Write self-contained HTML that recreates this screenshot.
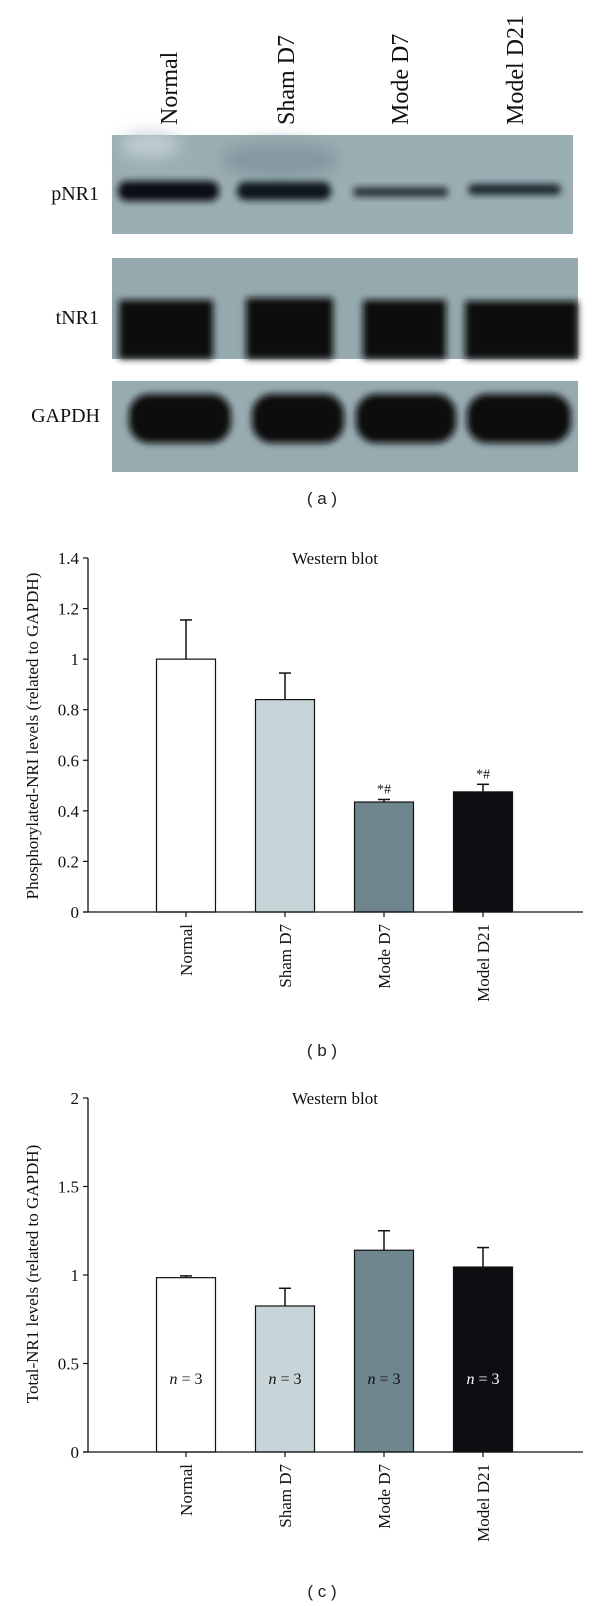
<!DOCTYPE html>
<html><head><meta charset="utf-8">
<style>
html,body{margin:0;padding:0;background:#fff;}
svg{display:block;}
.serif{font-family:"Liberation Serif",serif;fill:#111;}
.sans{font-family:"Liberation Sans",sans-serif;fill:#222;}
</style></head>
<body>
<svg id="fig" width="600" height="1606" viewBox="0 0 600 1606" xmlns="http://www.w3.org/2000/svg">
<defs>
<filter id="blur3" x="-20%" y="-50%" width="140%" height="200%"><feGaussianBlur stdDeviation="3.5"/></filter>
<filter id="blur6" x="-30%" y="-80%" width="160%" height="260%"><feGaussianBlur stdDeviation="8"/></filter>
</defs>

<!-- Panel a: western blot -->
<g>
  <g class="serif" font-size="24">
    <text transform="translate(177,125) rotate(-90)">Normal</text>
    <text transform="translate(294,125) rotate(-90)">Sham D7</text>
    <text transform="translate(408,125) rotate(-90)">Mode D7</text>
    <text transform="translate(523,125) rotate(-90)">Model D21</text>
  </g>
  <g class="serif" font-size="20" text-anchor="end">
    <text x="99" y="200">pNR1</text>
    <text x="99" y="324">tNR1</text>
    <text x="100" y="422">GAPDH</text>
  </g>
  <g>
    <rect x="112" y="135" width="461" height="99" fill="#9aaeb3"/>
    <ellipse cx="150" cy="145" rx="30" ry="12" fill="#c2d0d3" filter="url(#blur6)"/>
    <ellipse cx="280" cy="160" rx="60" ry="18" fill="#8599a0" filter="url(#blur6)"/>
    <rect x="118" y="181" width="101" height="20" rx="9" fill="#0b0f12" filter="url(#blur3)"/>
    <rect x="237" y="182" width="94" height="18" rx="8" fill="#11171b" filter="url(#blur3)"/>
    <rect x="353" y="187" width="95" height="10" rx="4" fill="#2a373d" filter="url(#blur3)"/>
    <rect x="468" y="184" width="93" height="11" rx="5" fill="#1f2a30" filter="url(#blur3)"/>
  </g>
  <g>
    <rect x="112" y="258" width="466" height="101" fill="#95a9ae"/>
    <rect x="119" y="300" width="94" height="59" fill="#0a0d10" filter="url(#blur3)"/>
    <rect x="246" y="298" width="87" height="61" fill="#0a0d10" filter="url(#blur3)"/>
    <rect x="363" y="300" width="83" height="59" fill="#0a0d10" filter="url(#blur3)"/>
    <rect x="465" y="301" width="113" height="58" fill="#0a0d10" filter="url(#blur3)"/>
  </g>
  <g>
    <rect x="112" y="381" width="466" height="91" fill="#97abb0"/>
    <rect x="129" y="394" width="102" height="49" rx="20" fill="#07090b" filter="url(#blur3)"/>
    <rect x="252" y="394" width="92" height="49" rx="20" fill="#07090b" filter="url(#blur3)"/>
    <rect x="356" y="394" width="100" height="49" rx="20" fill="#07090b" filter="url(#blur3)"/>
    <rect x="467" y="394" width="104" height="49" rx="20" fill="#07090b" filter="url(#blur3)"/>
  </g>
  <text class="sans" font-size="17" x="322" y="504" text-anchor="middle">( a )</text>
</g>

<g id="chartB"></g>
<text class="sans" font-size="17" x="322" y="1056" text-anchor="middle">( b )</text>
<g id="chartC"></g>
<text class="sans" font-size="17" x="322" y="1597" text-anchor="middle">( c )</text>
</svg>

<script>
var categories = ["Normal", "Sham D7", "Mode D7", "Model D21"];
var barColors = ["#ffffff", "#c8d5d8", "#6f858d", "#0c0e12"];
var phosphoValues = [1.0, 0.84, 0.435, 0.475];
var phosphoErrors = [0.155, 0.105, 0.01, 0.03];
var phosphoMarks = ["", "", "*#", "*#"];
var phosphoTicks = [0, 0.2, 0.4, 0.6, 0.8, 1, 1.2, 1.4];
var totalValues = [0.985, 0.825, 1.14, 1.045];
var totalErrors = [0.01, 0.1, 0.11, 0.11];
var totalTicks = [0, 0.5, 1, 1.5, 2];
var totalN = ["n = 3", "n = 3", "n = 3", "n = 3"];

var NS = "http://www.w3.org/2000/svg";
function mk(parent, tag, attrs) {
  var e = document.createElementNS(NS, tag);
  for (var k in attrs) e.setAttribute(k, attrs[k]);
  parent.appendChild(e);
  return e;
}

function drawChart(g, cfg) {
  var x0 = 88, x1 = 583;
  function yScale(v) { return cfg.y0 - (v - cfg.min) / (cfg.max - cfg.min) * (cfg.y0 - cfg.yTop); }
  function xScale(i) { return 186 + i * 99; }
  var bw = 59;

  var title = mk(g, "text", {x: 335, y: cfg.yTop + 6, "text-anchor": "middle", "font-size": 17, "class": "serif"});
  
  
  title.textContent = "Western blot";

  var ylab = mk(g, "text", {transform: "translate(38," + cfg.labelY + ") rotate(-90)", "text-anchor": "middle", "font-size": 17, "class": "serif"});
  
  
  ylab.textContent = cfg.ylabel;

  for (var i = 0; i < cfg.values.length; i++) {
    var top = yScale(cfg.values[i]);
    var et = yScale(cfg.values[i] + cfg.errors[i]);
    var cx = xScale(i);
    var err = mk(g, "line", {x1: cx, x2: cx, y1: top, y2: et, stroke: "#111", "stroke-width": 1.5});
    
    
    var cap = mk(g, "line", {x1: cx - 6, x2: cx + 6, y1: et, y2: et, stroke: "#111", "stroke-width": 1.5});
    
    
    var bar = mk(g, "rect", {x: cx - bw / 2, y: top, width: bw, height: cfg.y0 - top, fill: barColors[i], stroke: "#111", "stroke-width": 1.2});
    
    
    if (cfg.marks && cfg.marks[i]) {
      var m = mk(g, "text", {x: cx, y: et - 6, "text-anchor": "middle", "font-size": 14, "class": "serif"});
      
      
      m.textContent = cfg.marks[i];
    }
    if (cfg.nText) {
      var nt = mk(g, "text", {x: cx, y: cfg.nY, "text-anchor": "middle", "font-size": 16, "class": "serif"});
      
      
      nt.style.fill = i === 3 ? "#fff" : "#111";
      var parts = cfg.nText[i].split(" ");
      var it = mk(nt, "tspan", {"font-style": "italic"});
      it.textContent = parts[0];
      var rest = mk(nt, "tspan", {});
      rest.textContent = " " + parts.slice(1).join(" ");
    }
    var tk = mk(g, "line", {x1: cx, x2: cx, y1: cfg.y0, y2: cfg.y0 + 5, stroke: "#111", "stroke-width": 1.2});
    
    
    var xl = mk(g, "text", {transform: "translate(" + (cx + 6) + "," + (cfg.y0 + 12) + ") rotate(-90)", "text-anchor": "end", "font-size": 17, "class": "serif"});
    
    
    xl.textContent = categories[i];
  }

  var ax = mk(g, "line", {x1: x0, x2: x0, y1: cfg.yTop, y2: cfg.y0, stroke: "#111", "stroke-width": 1.3});
  
  
  var xa = mk(g, "line", {x1: x0 - 5, x2: x1, y1: cfg.y0, y2: cfg.y0, stroke: "#111", "stroke-width": 1.3});
  
  

  for (var t = 0; t < cfg.ticks.length; t++) {
    var ty = yScale(cfg.ticks[t]);
    var tl = mk(g, "line", {x1: x0 - 5, x2: x0, y1: ty, y2: ty, stroke: "#111", "stroke-width": 1.2});
    
    
    var tt = mk(g, "text", {x: x0 - 9, y: ty + 6, "text-anchor": "end", "font-size": 17, "class": "serif"});
    
    
    tt.textContent = String(cfg.ticks[t]);
  }
}

drawChart(document.getElementById("chartB"), {
  values: phosphoValues, errors: phosphoErrors, marks: phosphoMarks, ticks: phosphoTicks,
  min: 0, max: 1.4, y0: 912, yTop: 558, labelY: 736,
  ylabel: "Phosphorylated-NRI levels (related to GAPDH)"
});
drawChart(document.getElementById("chartC"), {
  values: totalValues, errors: totalErrors, ticks: totalTicks, nText: totalN, nY: 1384,
  min: 0, max: 2, y0: 1452, yTop: 1098, labelY: 1274,
  ylabel: "Total-NR1 levels (related to GAPDH)"
});
</script>
</body></html>
